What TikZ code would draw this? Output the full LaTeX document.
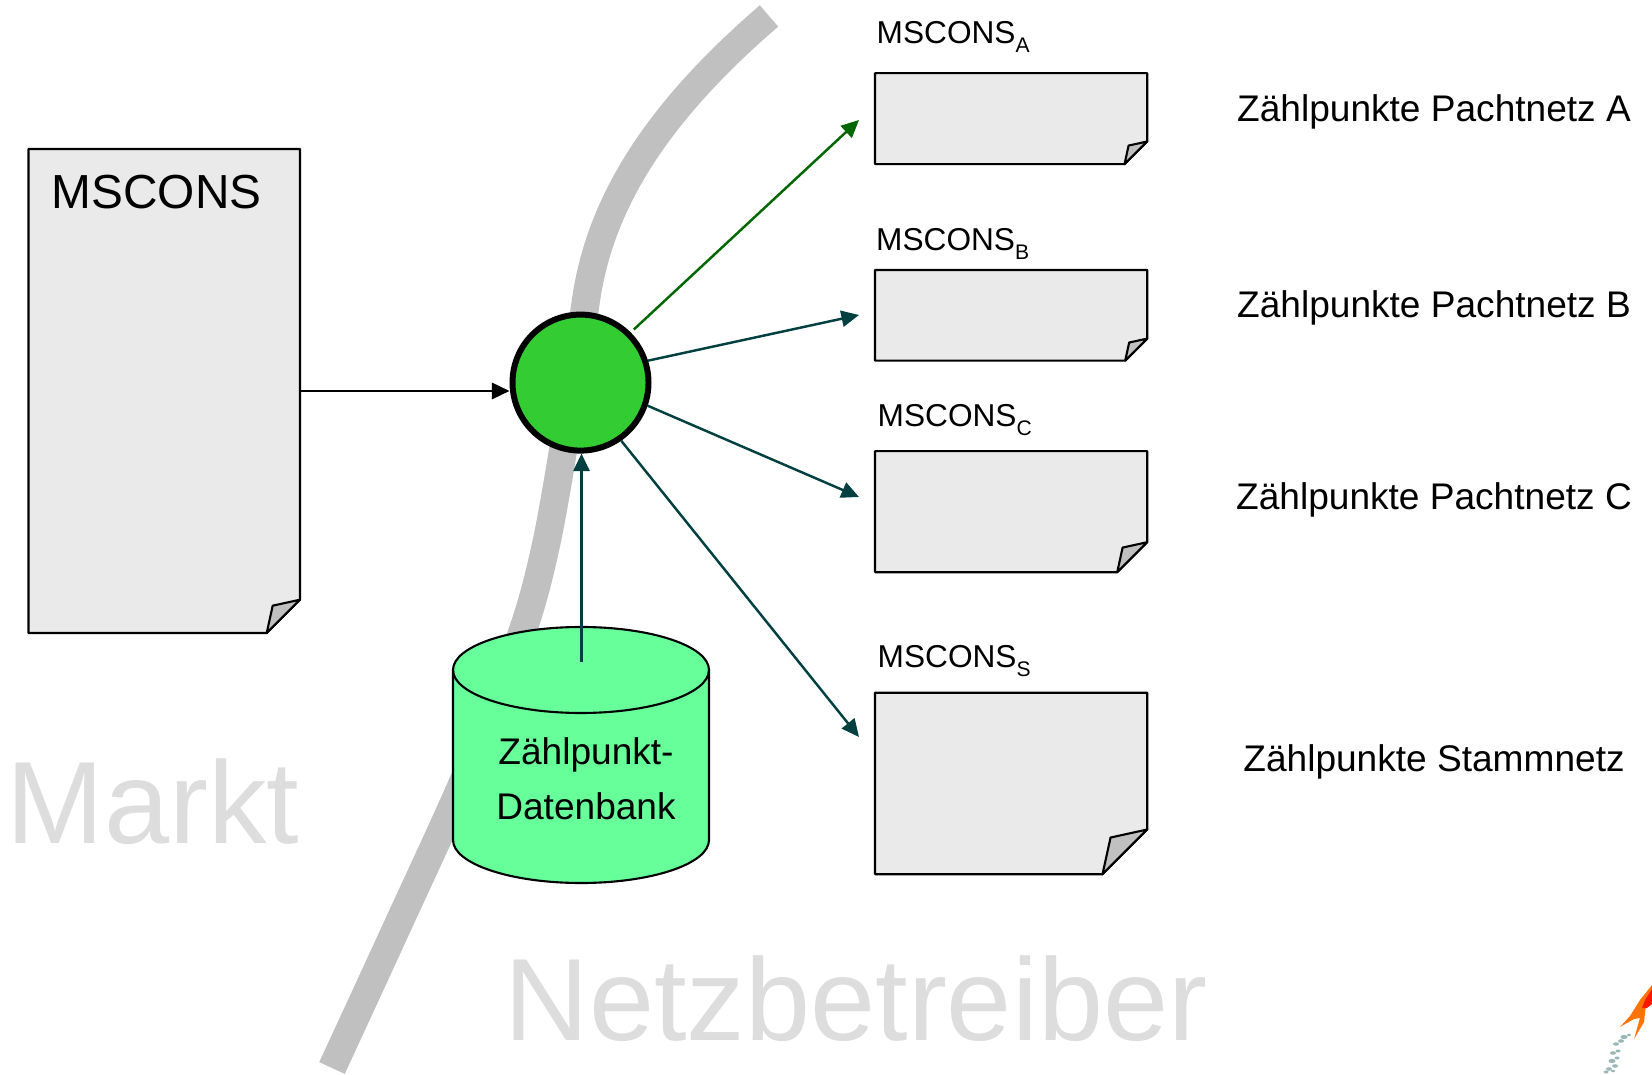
\documentclass[tikz,border=0pt]{standalone}
\usepackage{fontspec}
\setmainfont{Liberation Sans}
\usetikzlibrary{arrows.meta,calc}
\definecolor{docgray}{HTML}{EAEAEA}
\definecolor{foldgray}{HTML}{C0C0C0}
\definecolor{bandgray}{HTML}{C0C0C0}
\definecolor{wordgray}{HTML}{DDDDDD}
\definecolor{hubgreen}{HTML}{33CC33}
\definecolor{dbgreen}{HTML}{66FF99}
\definecolor{linkgreen}{HTML}{006600}
\definecolor{linkteal}{HTML}{004040}
\newcommand{\msc}[1]{MSCONS\raisebox{-2.3pt}{\fontsize{6}{6}\selectfont #1}}

\begin{document}
\begin{tikzpicture}[>={Triangle[length=5pt,width=4.6pt]},
				docpage/.style={rectangle,outer sep=0pt,inner sep=0pt,anchor=north west},
				pageline/.style={draw=black,line width=0.6pt,line join=round},
				hubnode/.style={circle,draw=black,fill=hubgreen,line width=1.7pt,minimum size=1.36cm,inner sep=0pt},
				dbnode/.style={rectangle,outer sep=0pt,inner sep=0pt,minimum width=2.56cm,minimum height=2.56cm},
				biglabel/.style={text=wordgray,font=\fontsize{33.3}{36}\selectfont,anchor=base west,inner sep=0pt},
				msclabel/.style={font=\fontsize{9}{11}\selectfont,anchor=base west,inner sep=0pt},
				netlabel/.style={font=\fontsize{10.55}{13}\selectfont,anchor=base,inner sep=0pt},
				link/.style={->,line width=0.7pt,linkteal}]
				\useasboundingbox (0,0) rectangle (16.52,10.74);
				% boundary between the two sides
				\draw[bandgray,line width=8pt] plot[smooth] coordinates
				{(3.32,0.06) (3.97,1.47) (4.67,3.01) (5.23,4.44) (5.47,5.34) (5.68,6.54) (5.86,7.74)}
					.. controls (6.0,8.7) and (6.55,9.6) .. (7.69,10.58);
				\node[biglabel] (markt) at (0.06,2.31) {Markt};
				\node[biglabel] (netz) at (5.04,0.34) {Netzbetreiber};
				% pages: name, left, top, width, height, fold
				\foreach \N/\X/\Y/\W/\H/\F in {M/0.285/9.25/2.715/4.84/0.333,A/8.75/10.008/2.722/0.91/0.227,
					B/8.75/8.04/2.722/0.906/0.22,C/8.75/6.228/2.722/1.21/0.30,S/8.75/3.813/2.722/1.815/0.447}
				{\node[docpage,minimum width=\W cm,minimum height=\H cm] (doc\N) at (\X,\Y) {};
					\draw[pageline,fill=docgray] (doc\N.north west) -- (doc\N.north east) -- ($(doc\N.south east)+(0,\F)$)
						-- ($(doc\N.south east)+(-\F,0)$) -- (doc\N.south west) -- cycle;
					\draw[pageline,fill=foldgray] ($(doc\N.south east)+(0,\F)$) -- ($(doc\N.south east)+(-0.82*\F,0.82*\F)$)
						-- ($(doc\N.south east)+(-\F,0)$) -- cycle;}
				\node[font=\fontsize{13.6}{16}\selectfont,anchor=base west,inner sep=0pt] (msconsmain) at (0.51,8.65) {MSCONS};
				\node[msclabel] (mscA) at (8.76,10.30) {\msc{A}};
				\node[msclabel] (mscB) at (8.755,8.23) {\msc{B}};
				\node[msclabel] (mscC) at (8.77,6.47) {\msc{C}};
				\node[msclabel] (mscS) at (8.77,4.06) {\msc{S}};
				\node[netlabel] (netA) at (14.34,9.52) {Zählpunkte Pachtnetz A};
				\node[netlabel] (netB) at (14.34,7.56) {Zählpunkte Pachtnetz B};
				\node[netlabel] (netC) at (14.34,5.64) {Zählpunkte Pachtnetz C};
				\node[netlabel] (netS) at (14.34,3.02) {Zählpunkte Stammnetz};
				% database and hub
				\node[dbnode] (db) at (5.81,3.19) {};
				\draw[pageline,fill=dbgreen] ($(db.north west)+(0,-0.43)$) arc (180:0:1.28 and 0.43)
					-- ($(db.south east)+(0,0.43)$) arc (0:-180:1.28 and 0.43) -- cycle;
				\draw[pageline] ($(db.north west)+(0,-0.43)$) arc (180:360:1.28 and 0.43);
				\node[align=center,font=\fontsize{10.55}{15.6}\selectfont,inner sep=0pt] (dbtext) at (5.86,2.95) {Zählpunkt-\\Datenbank};
				\node[hubnode] (hub) at (5.805,6.914) {};
				\coordinate (dbtop) at (5.815,4.12);
				\coordinate (tipA) at (8.59,9.54);
				\coordinate (tipB) at (8.59,7.59);
				\coordinate (tipC) at (8.59,5.77);
				\coordinate (tipS) at (8.59,3.37);
				\draw[->,line width=0.75pt,black] (docM.east) -- (docM.east -| hub.west);
				\draw[link] (dbtop) -- (hub.south -| dbtop);
				\draw[link,linkgreen,shorten <=1.2pt] (hub.45) -- (tipA);
				\draw[link] (hub.18) -- (tipB);
				\draw[link] (hub.-19) -- (tipC);
				\draw[link] (hub.-55) -- (tipS);
				% fish in the corner
				\fill[orange!90!red] (16.52,0.89) -- (16.40,0.74) -- (16.30,0.58) -- (16.20,0.47) -- (16.34,0.55) -- (16.40,0.56) -- (16.34,0.35) -- (16.44,0.52) -- (16.46,0.70) -- (16.52,0.72) -- cycle;
				\fill[red!80!orange] (16.52,0.85) -- (16.45,0.74) -- (16.42,0.66) -- (16.47,0.66) -- (16.52,0.70) -- cycle;
				\foreach \X/\Y/\R in {16.29/0.39/0.02,16.24/0.37/0.035,16.21/0.33/0.03,16.16/0.30/0.03,16.18/0.23/0.025,16.13/0.21/0.03,16.17/0.16/0.025,16.12/0.13/0.035,16.15/0.08/0.03,16.09/0.05/0.03,16.06/0.02/0.025,16.13/0.03/0.02}
				{\fill[teal!60!black,opacity=0.4] (\X,\Y) ellipse ({\R} and {0.6*\R});}
			\end{tikzpicture}
\end{document}
